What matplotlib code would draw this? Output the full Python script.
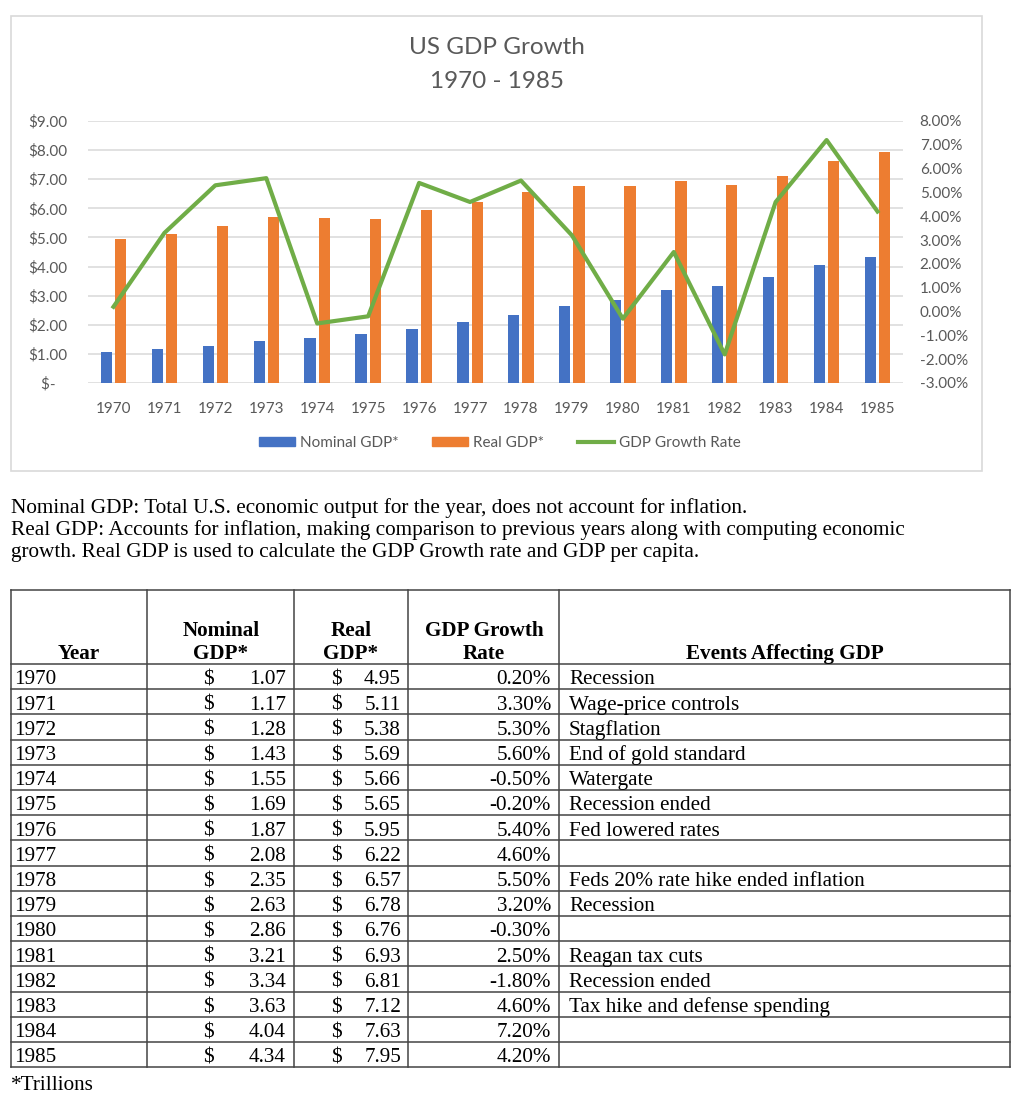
import matplotlib
matplotlib.use("Agg")
import matplotlib.pyplot as plt
from matplotlib.patches import Patch, Rectangle
from matplotlib.lines import Line2D
import numpy as np

# ---- data (trillions of $, growth in %) ----
years = [1970, 1971, 1972, 1973, 1974, 1975, 1976, 1977,
         1978, 1979, 1980, 1981, 1982, 1983, 1984, 1985]
nominal_gdp = [1.07, 1.17, 1.28, 1.43, 1.55, 1.69, 1.87, 2.08,
               2.35, 2.63, 2.86, 3.21, 3.34, 3.63, 4.04, 4.34]
real_gdp = [4.95, 5.11, 5.38, 5.69, 5.66, 5.65, 5.95, 6.22,
            6.57, 6.78, 6.76, 6.93, 6.81, 7.12, 7.63, 7.95]
growth_rate = [0.2, 3.3, 5.3, 5.6, -0.5, -0.2, 5.4, 4.6,
               5.5, 3.2, -0.3, 2.5, -1.8, 4.6, 7.2, 4.2]
events = ["Recession", "Wage-price controls", "Stagflation", "End of gold standard",
          "Watergate", "Recession ended", "Fed lowered rates", "",
          "Feds 20% rate hike ended inflation", "Recession", "", "Reagan tax cuts",
          "Recession ended", "Tax hike and defense spending", "", ""]
notes = ["Nominal GDP: Total U.S. economic output for the year, does not account for inflation.",
         "Real GDP: Accounts for inflation, making comparison to previous years along with computing economic",
         "growth. Real GDP is used to calculate the GDP Growth rate and GDP per capita."]

BLUE, ORANGE, GREEN = "#4472C4", "#ED7D31", "#70AD47"
GREY_TXT, GRID = "#595959", "#D9D9D9"
SANS = ["Lato", "DejaVu Sans"]
SERIF = ["Liberation Serif", "DejaVu Serif"]

W, H = 1022, 1096
fig = plt.figure(figsize=(W / 100, H / 100), dpi=100)

# background axes in pixel coordinates (frame, notes, table)
bg = fig.add_axes([0, 0, 1, 1], zorder=0)
bg.set_xlim(0, W)
bg.set_ylim(H, 0)
bg.axis("off")
bg.add_patch(Rectangle((11, 16), 971, 455, fill=False, ec=GRID, lw=1.2))

# ---- chart ----
ax = fig.add_axes([88 / W, 1 - 383 / H, 815 / W, 262 / H], zorder=2)
ax.set_facecolor("none")
x = np.arange(len(years))
ax.bar(x - 0.14, nominal_gdp, width=0.22, color=BLUE, zorder=3, label="Nominal GDP*")
ax.bar(x + 0.14, real_gdp, width=0.22, color=ORANGE, zorder=3, label="Real GDP*")
ax.set_xlim(-0.5, len(years) - 0.5)
ax.set_ylim(0, 9)
ax.set_yticks(range(10))
ax.set_yticklabels(["$-   "] + [f"${v:.2f}" for v in range(1, 10)])
ax.set_xticks(x)
ax.set_xticklabels([str(y) for y in years])
ax.grid(axis="y", color=GRID, lw=1.1, zorder=0)
for s in ax.spines.values():
    s.set_visible(False)
ax.tick_params(length=0, colors=GREY_TXT, labelsize=11)
ax.tick_params(axis="y", pad=15)
ax.tick_params(axis="x", pad=13.5)
for lab in ax.get_xticklabels() + ax.get_yticklabels():
    lab.set_family(SANS)

ax2 = ax.twinx()
ax2.plot(x, growth_rate, color=GREEN, lw=3, zorder=4, label="GDP Growth Rate")
ax2.set_ylim(-3, 8)
ax2.set_yticks(range(-3, 9))
ax2.set_yticklabels([f"{v:.2f}%" for v in range(-3, 9)])
for s in ax2.spines.values():
    s.set_visible(False)
ax2.tick_params(length=0, colors=GREY_TXT, labelsize=11, pad=12)
for lab in ax2.get_yticklabels():
    lab.set_family(SANS)

fig.text(497 / W, 1 - 48 / H, "US GDP Growth", ha="center", va="center",
         fontsize=17.5, color=GREY_TXT, family=SANS)
fig.text(497 / W, 1 - 82 / H, "1970 - 1985", ha="center", va="center",
         fontsize=17.5, color=GREY_TXT, family=SANS)

handles = [Patch(color=BLUE), Patch(color=ORANGE), Line2D([], [], color=GREEN, lw=3)]
fig.legend(handles, ["Nominal GDP*", "Real GDP*", "GDP Growth Rate"], loc="center",
           bbox_to_anchor=(500 / W, 1 - 443 / H), ncol=3, frameon=False,
           handlelength=2.35, handleheight=0.55, handletextpad=0.33, columnspacing=2.2,
           prop={"family": SANS, "size": 11}, labelcolor=GREY_TXT)

# ---- notes ----
for i, line in enumerate(notes):
    bg.text(11, 513 + i * 22, line, ha="left", va="baseline", fontsize=15.3, family=SERIF)

# ---- table ----
cols = [11, 147, 294, 408, 559, 1010]
top, head_bot, row_h = 590, 664, 25.2
n = len(years)
bottom = head_bot + n * row_h
lc, lw = "#444444", 1.1
for cx in cols:
    bg.plot([cx, cx], [top, bottom], color=lc, lw=lw)
bg.plot([cols[0], cols[-1]], [top, top], color=lc, lw=lw)
for i in range(n + 1):
    yy = head_bot + i * row_h
    bg.plot([cols[0], cols[-1]], [yy, yy], color=lc, lw=lw)

hb = dict(fontsize=15.2, family=SERIF, fontweight="bold", va="baseline", ha="center")
bg.text(79, 659, "Year", **hb)
bg.text(221, 636, "Nominal", **hb)
bg.text(221, 659, "GDP*", **hb)
bg.text(351, 636, "Real", **hb)
bg.text(351, 659, "GDP*", **hb)
bg.text(484, 636, "GDP Growth", **hb)
bg.text(484, 659, "Rate", **hb)
bg.text(785, 659, "Events Affecting GDP", **hb)

cell = dict(fontsize=15.2, family=SERIF, va="baseline")
for i in range(n):
    yb = head_bot + i * row_h + 20.5
    bg.text(14, yb, str(years[i]), ha="left", **cell)
    bg.text(203, yb, "$", ha="left", **cell)
    bg.text(286, yb, f"{nominal_gdp[i]:.2f}", ha="right", **cell)
    bg.text(331, yb, "$", ha="left", **cell)
    bg.text(401, yb, f"{real_gdp[i]:.2f}", ha="right", **cell)
    bg.text(551, yb, f"{growth_rate[i]:.2f}%", ha="right", **cell)
    bg.text(569, yb, events[i], ha="left", **cell)

bg.text(11, 1090, "*Trillions", ha="left", va="baseline", fontsize=15.2, family=SERIF)

fig.savefig("out.png", dpi=100, facecolor="white")
